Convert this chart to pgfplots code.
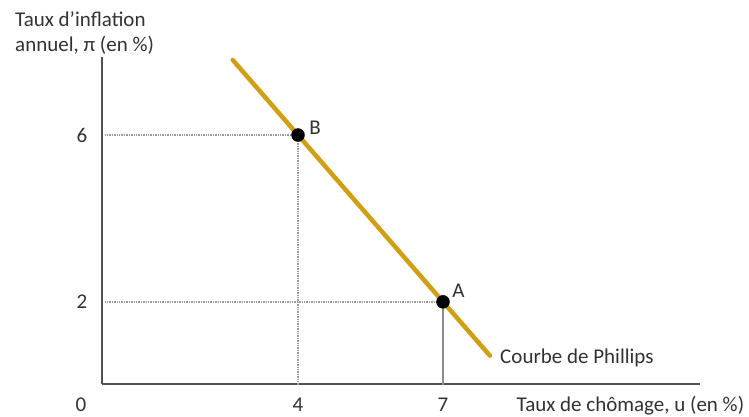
\documentclass[border=0pt]{standalone}
\usepackage{pgfplots}
\pgfplotsset{compat=1.18}
\usepackage{fontspec}
\setmainfont{Carlito}
\definecolor{gold}{RGB}{208,160,18}
\definecolor{axisgrey}{RGB}{80,80,80}
\definecolor{txt}{RGB}{50,50,50}
\begin{document}
\fontsize{21}{25}\selectfont
\begin{tikzpicture}
\useasboundingbox (-104.7pt,-33pt) rectangle (644.3pt,384pt);
\begin{axis}[
  anchor=origin,
  x=48.33pt, y=41.7pt,
  xmin=-0.055, xmax=12.32,
  ymin=0.03, ymax=7.87,
  axis lines=left,
  axis line style={-, line width=2.3pt, color=axisgrey},
  xtick={4,7}, ytick={2,6},
  major tick length=0pt,
  /pgf/number format/assume math mode=true,
  ticklabel style={font=\fontsize{21}{25}\selectfont, text=txt},
  xticklabel style={anchor=base, yshift=-27.8pt},
  yticklabel style={xshift=-7.5pt},
  clip=false,
]
% reference lines
\addplot[densely dotted, line width=1.4pt, color=gray!80] coordinates {(0,6) (4,6) (4,0)};
\addplot[densely dotted, line width=1.4pt, color=gray!80] coordinates {(0,2) (7,2)};
\addplot[solid, line width=1.1pt, color=gray!90] coordinates {(7,2) (7,0)};
% Phillips curve
\addplot[color=gold, line width=4.5pt, line cap=round] coordinates {(2.65,7.8) (4,6) (7,2) (7.97,0.71)};
% points
\addplot[only marks, mark=*, mark size=6.5pt, color=black] coordinates {(4,6) (7,2)};
\node[anchor=base west, text=txt, inner sep=0pt] at (axis cs:4.23,6.02) {B};
\node[anchor=base west, text=txt, inner sep=0pt] at (axis cs:7.19,2.11) {A};
\node[anchor=base west, text=txt, inner sep=0pt] at (axis cs:8.18,0.528) {Courbe de Phillips};
\node[anchor=base west, text=txt, inner sep=0pt] at (axis cs:8.52,-0.635) {Taux de chômage, u (en \%)};
\node[anchor=base, text=txt, inner sep=0pt] at (axis cs:-0.49,-0.635) {0};
\node[anchor=base west, text=txt, inner sep=0pt] at (axis cs:-1.856,8.609) {Taux d’inflation};
\node[anchor=base west, text=txt, inner sep=0pt] at (axis cs:-1.856,8.010) {annuel, π (en \%)};
\end{axis}
\end{tikzpicture}
\end{document}
